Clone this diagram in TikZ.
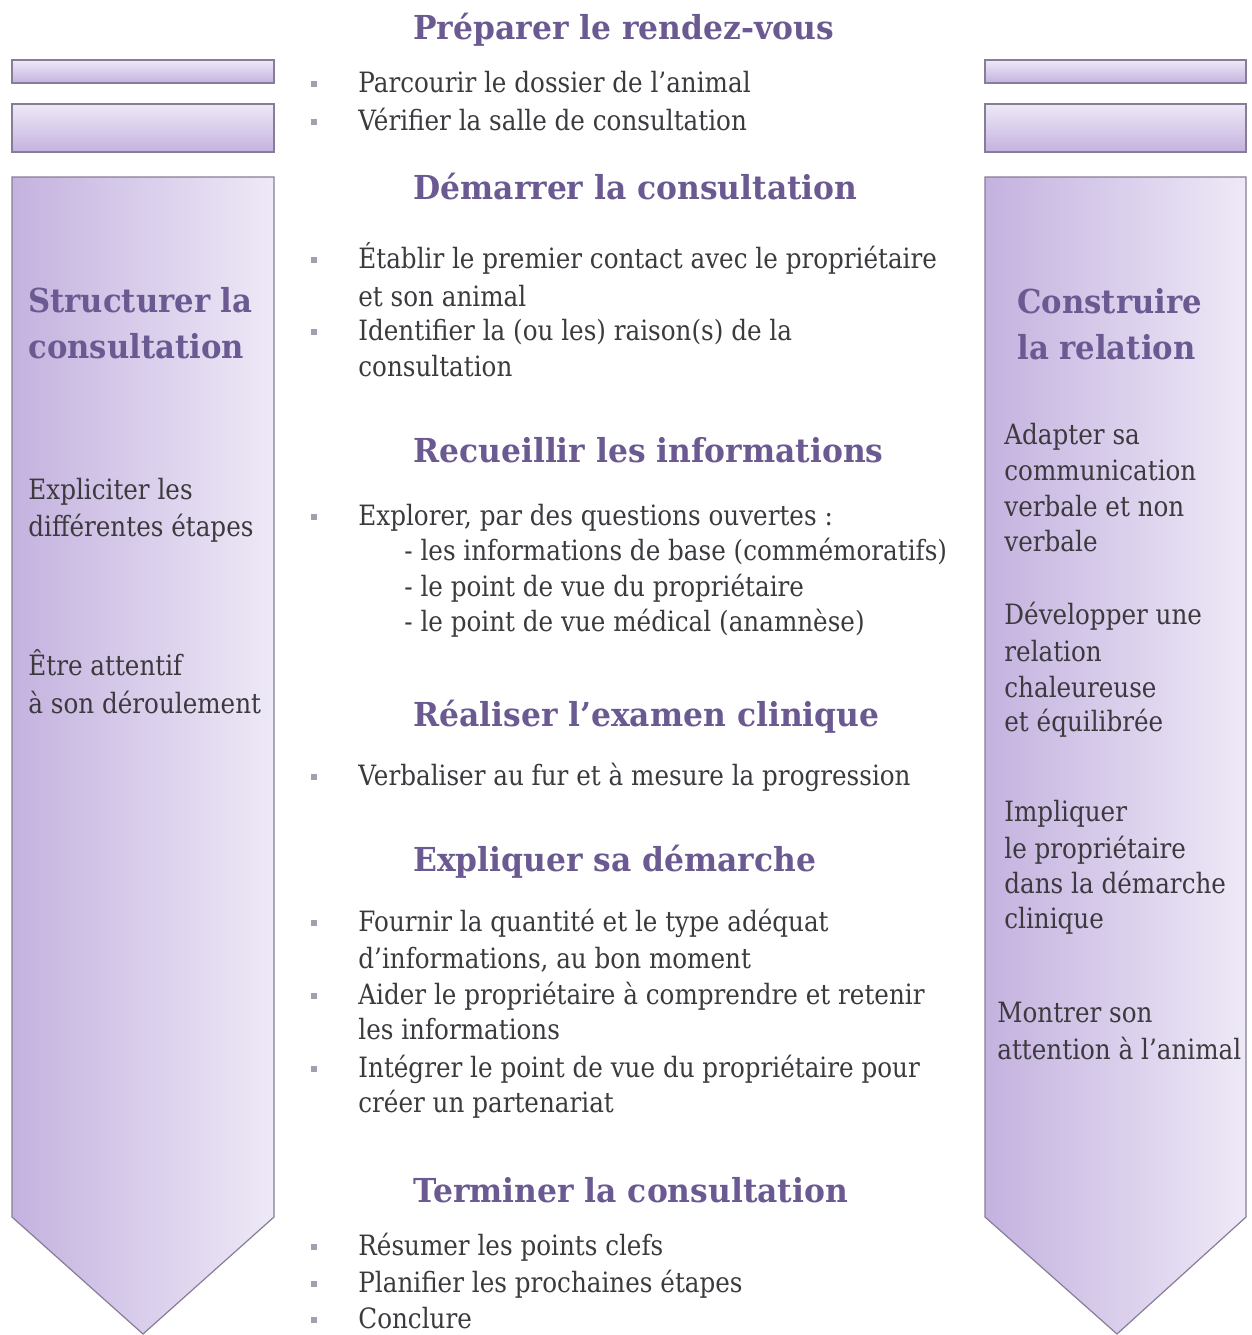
\documentclass[tikz,border=0pt]{standalone}
\usepackage{fontspec}
\setmainfont{DejaVu Serif}[FakeStretch=0.88]
\newfontfamily\headfont{DejaVu Serif}[FakeStretch=0.95]
\newfontfamily\sidefont{DejaVu Serif}[FakeStretch=0.93]
\definecolor{hd}{HTML}{6B5A92}
\definecolor{tx}{HTML}{3C3A3E}
\definecolor{bd}{HTML}{877D96}
\definecolor{pdark}{HTML}{C4B2DF}
\definecolor{plight}{HTML}{EEE9F7}
\definecolor{bul}{HTML}{A69DB5}
\tikzset{
  body/.style={anchor=base west, inner sep=0pt, text=tx, font=\fontsize{14}{16}\selectfont},
  head/.style={anchor=base west, inner sep=0pt, text=hd, font=\headfont\fontsize{16.5}{18}\selectfont\bfseries},
  side/.style={anchor=base west, inner sep=0pt, text=hd, font=\sidefont\fontsize{16.5}{18}\selectfont\bfseries},
  bulletmark/.style={fill=bul, draw=none, minimum size=2.8pt, inner sep=0pt, anchor=center},
  bar/.style={draw=bd, line width=0.6pt, top color=plight, bottom color=pdark},
  column/.style={draw=bd, line width=0.6pt, left color=pdark, right color=plight},
}
\begin{document}
\begin{tikzpicture}[x=0.5pt,y=-0.5pt]
\useasboundingbox (0,0) rectangle (1252,1335);
% side shapes
\path[bar] (12,60) rectangle (274,83);
\path[bar] (12,104) rectangle (274,152);
\path[column] (12,177) -- (274,177) -- (274,1217) -- (143,1334) -- (12,1217) -- cycle;
\path[bar] (985,60) rectangle (1246,83);
\path[bar] (985,104) rectangle (1246,152);
\path[column] (985,177) -- (1246,177) -- (1246,1217) -- (1117,1334) -- (985,1217) -- cycle;
% left column text
\node[side] (l1) at (28,312) {Structurer la};
\node[side] (l2) at (28,358) {consultation};
\node[body] (l3) at (28,499) {Expliciter les};
\node[body] (l4) at (28,536) {différentes étapes};
\node[body] (l5) at (28,675) {Être attentif};
\node[body] (l6) at (28,713) {à son déroulement};
% right column text
\node[side] (r1) at (1017,313) {Construire};
\node[side] (r2) at (1017,359) {la relation};
\node[body] (r3) at (1004,444) {Adapter sa};
\node[body] (r4) at (1004,480) {communication};
\node[body] (r5) at (1004,516) {verbale et non};
\node[body] (r6) at (1004,551) {verbale};
\node[body] (r7) at (1004,624) {Développer une};
\node[body] (r8) at (1004,661) {relation};
\node[body] (r9) at (1004,697) {chaleureuse};
\node[body] (r10) at (1004,731) {et équilibrée};
\node[body] (r11) at (1004,821) {Impliquer};
\node[body] (r12) at (1004,858) {le propriétaire};
\node[body] (r13) at (1004,893) {dans la démarche};
\node[body] (r14) at (1004,928) {clinique};
\node[body] (r15) at (997,1022) {Montrer son};
\node[body] (r16) at (997,1059) {attention à l’animal};
% centre headings
\node[head] (h1) at (413,39) {Préparer le rendez-vous};
\node[head] (h2) at (413,199) {Démarrer la consultation};
\node[head] (h3) at (413,462) {Recueillir les informations};
\node[head] (h4) at (413,726) {Réaliser l’examen clinique};
\node[head] (h5) at (413,871) {Expliquer sa démarche};
\node[head] (h6) at (413,1202) {Terminer la consultation};
% centre body
\node[body] (c1) at (358,92) {Parcourir le dossier de l’animal};
\node[body] (c2) at (358,130) {Vérifier la salle de consultation};
\node[body] (c3) at (358,268) {Établir le premier contact avec le propriétaire};
\node[body] (c4) at (358,306) {et son animal};
\node[body] (c5) at (358,340) {Identifier la (ou les) raison(s) de la};
\node[body] (c6) at (358,376) {consultation};
\node[body] (c7) at (358,525) {Explorer, par des questions ouvertes :};
\node[body] (c8) at (404,560) {- les informations de base (commémoratifs)};
\node[body] (c9) at (404,596) {- le point de vue du propriétaire};
\node[body] (c10) at (404,631) {- le point de vue médical (anamnèse)};
\node[body] (c11) at (358,785) {Verbaliser au fur et à mesure la progression};
\node[body] (c12) at (358,931) {Fournir la quantité et le type adéquat};
\node[body] (c13) at (358,968) {d’informations, au bon moment};
\node[body] (c14) at (358,1004) {Aider le propriétaire à comprendre et retenir};
\node[body] (c15) at (358,1039) {les informations};
\node[body] (c16) at (358,1077) {Intégrer le point de vue du propriétaire pour};
\node[body] (c17) at (358,1112) {créer un partenariat};
\node[body] (c18) at (358,1255) {Résumer les points clefs};
\node[body] (c19) at (358,1292) {Planifier les prochaines étapes};
\node[body] (c20) at (358,1328) {Conclure};
% bullets
\foreach \yy [count=\i] in {84,122,260,332,517,777,923,996,1069,1247,1284,1320}
  \node[bulletmark] (b\i) at (314,\yy) {};
\end{tikzpicture}
\end{document}
